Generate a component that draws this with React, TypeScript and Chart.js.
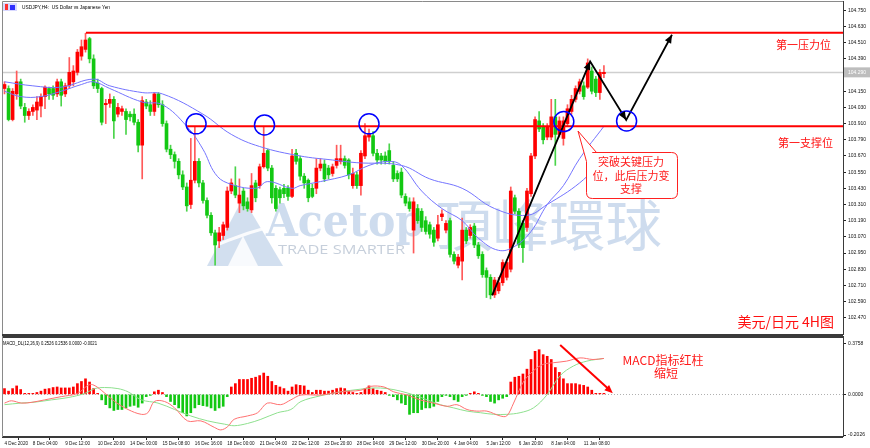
import React, { useEffect, useRef } from 'react';
import { Chart, registerables } from 'chart.js';

Chart.register(...registerables);

// ---------------- DATA ----------------
const opens = [
  104.17, 104.17, 103.94, 104.13, 104.22, 104.03, 103.97, 104.00, 104.01, 104.04,
  104.11, 104.17, 104.17, 104.13, 104.22, 104.13, 104.19, 104.22, 104.29, 104.41,
  104.46, 104.54, 104.39, 104.21, 104.17, 104.05, 104.06, 104.09, 103.98, 104.00,
  104.00, 103.98, 103.98, 103.92, 103.75, 104.07, 104.05, 104.00, 104.13, 104.05,
  103.91, 103.72, 103.68, 103.63, 103.53, 103.44, 103.31, 103.49, 103.63, 103.47,
  103.34, 103.23, 103.10, 103.04, 103.08, 103.14, 103.41, 103.45, 103.32, 103.41,
  103.33, 103.27, 103.47, 103.45, 103.59, 103.71, 103.58, 103.43, 103.42, 103.43,
  103.43, 103.37, 103.69, 103.65, 103.52, 103.49, 103.43, 103.43, 103.58, 103.61,
  103.58, 103.54, 103.60, 103.63, 103.65, 103.64, 103.45, 103.53, 103.45, 103.67,
  103.81, 103.82, 103.69, 103.67, 103.67, 103.71, 103.60, 103.54, 103.55, 103.37,
  103.33, 103.12, 103.28, 103.26, 103.19, 103.16, 103.12, 103.06, 103.22, 103.12,
  103.19, 102.94, 102.86, 102.89, 103.12, 103.08, 103.15, 103.01, 102.94, 102.82,
  102.77, 102.64, 102.67, 102.73, 102.77, 102.83, 103.36, 103.26, 103.17, 103.14,
  103.39, 103.67, 103.93, 103.89, 103.81, 103.81, 103.96, 103.83, 103.80, 103.91,
  104.00, 104.09, 104.15, 104.19, 104.18, 104.30, 104.24, 104.14, 104.28,
];
const highs = [
  104.22, 104.19, 104.17, 104.30, 104.24, 104.06, 104.02, 104.05, 104.11, 104.13,
  104.19, 104.18, 104.19, 104.24, 104.24, 104.21, 104.40, 104.34, 104.46, 104.53,
  104.58, 104.55, 104.42, 104.24, 104.18, 104.09, 104.13, 104.11, 104.06, 104.04,
  104.02, 104.00, 104.02, 103.94, 104.11, 104.09, 104.08, 104.14, 104.14, 104.08,
  103.93, 103.75, 103.70, 103.65, 103.56, 103.47, 103.80, 103.89, 103.65, 103.49,
  103.36, 103.25, 103.12, 103.14, 103.18, 103.44, 103.50, 103.59, 103.50, 103.43,
  103.36, 103.54, 103.49, 103.61, 103.89, 103.72, 103.60, 103.45, 103.44, 103.46,
  103.45, 103.72, 103.72, 103.67, 103.54, 103.50, 103.46, 103.65, 103.65, 103.64,
  103.60, 103.61, 103.75, 103.75, 103.67, 103.65, 103.58, 103.55, 103.71, 103.91,
  103.87, 103.85, 103.72, 103.69, 103.70, 103.76, 103.63, 103.56, 103.58, 103.39,
  103.36, 103.36, 103.31, 103.28, 103.22, 103.18, 103.14, 103.23, 103.27, 103.19,
  103.21, 102.96, 102.94, 103.21, 103.14, 103.16, 103.17, 103.03, 102.96, 102.84,
  102.79, 102.77, 102.77, 102.90, 102.90, 103.44, 103.38, 103.28, 103.19, 103.43,
  103.69, 103.96, 104.00, 103.91, 103.91, 104.09, 104.09, 103.96, 103.96, 104.05,
  104.12, 104.19, 104.24, 104.22, 104.39, 104.33, 104.26, 104.31, 104.34,
];
const lows = [
  104.13, 103.93, 103.93, 104.09, 104.02, 103.92, 103.94, 103.97, 103.94, 103.96,
  104.02, 104.09, 104.09, 104.11, 104.04, 104.11, 104.17, 104.19, 104.27, 104.38,
  104.44, 104.36, 104.17, 104.14, 103.90, 103.91, 104.03, 103.80, 103.96, 103.97,
  103.83, 103.93, 103.90, 103.70, 103.50, 104.02, 103.97, 103.97, 104.03, 103.89,
  103.70, 103.65, 103.58, 103.50, 103.42, 103.26, 103.28, 103.47, 103.44, 103.32,
  103.21, 103.08, 102.86, 102.99, 103.05, 103.12, 103.39, 103.36, 103.25, 103.27,
  103.26, 103.25, 103.33, 103.43, 103.58, 103.56, 103.32, 103.26, 103.32, 103.36,
  103.34, 103.36, 103.61, 103.49, 103.43, 103.33, 103.36, 103.39, 103.56, 103.48,
  103.50, 103.52, 103.58, 103.61, 103.58, 103.50, 103.43, 103.43, 103.38, 103.65,
  103.78, 103.67, 103.61, 103.61, 103.61, 103.61, 103.48, 103.48, 103.36, 103.30,
  103.26, 102.95, 103.17, 103.11, 103.09, 103.06, 103.00, 103.04, 103.19, 103.10,
  102.92, 102.87, 102.84, 102.75, 103.02, 103.06, 102.99, 102.91, 102.77, 102.62,
  102.61, 102.62, 102.65, 102.71, 102.75, 102.81, 103.24, 102.99, 102.88, 103.11,
  103.37, 103.65, 103.85, 103.76, 103.79, 103.79, 103.60, 103.81, 103.75, 103.89,
  103.98, 104.07, 104.13, 104.09, 104.17, 104.13, 104.11, 104.09, 104.25,
];
const closes = [
  104.20, 103.94, 104.15, 104.22, 104.04, 103.97, 104.00, 104.03, 104.07, 104.11,
  104.18, 104.13, 104.12, 104.22, 104.12, 104.19, 104.29, 104.30, 104.44, 104.48,
  104.53, 104.39, 104.19, 104.17, 103.92, 104.06, 104.09, 103.93, 104.03, 104.02,
  103.94, 103.96, 103.92, 103.75, 104.08, 104.04, 104.00, 104.13, 104.05, 103.91,
  103.72, 103.68, 103.63, 103.53, 103.44, 103.30, 103.49, 103.63, 103.47, 103.34,
  103.23, 103.10, 103.01, 103.10, 103.16, 103.41, 103.47, 103.38, 103.38, 103.30,
  103.28, 103.45, 103.36, 103.59, 103.69, 103.58, 103.36, 103.28, 103.36, 103.39,
  103.37, 103.67, 103.63, 103.52, 103.47, 103.36, 103.37, 103.58, 103.61, 103.50,
  103.53, 103.59, 103.65, 103.65, 103.60, 103.53, 103.54, 103.45, 103.69, 103.82,
  103.83, 103.69, 103.64, 103.64, 103.63, 103.63, 103.50, 103.50, 103.38, 103.32,
  103.28, 103.33, 103.19, 103.14, 103.11, 103.09, 103.03, 103.16, 103.24, 103.17,
  102.94, 102.89, 102.92, 103.12, 103.04, 103.14, 103.01, 102.93, 102.79, 102.77,
  102.64, 102.75, 102.73, 102.88, 102.88, 103.41, 103.26, 103.01, 102.99, 103.41,
  103.67, 103.94, 103.87, 103.79, 103.89, 103.96, 103.83, 103.93, 103.93, 104.02,
  104.09, 104.17, 104.22, 104.11, 104.36, 104.15, 104.14, 104.29, 104.29,
];

// moving averages (bar index, value)
const maFastIdx = [0, 4, 9, 14, 19, 22, 26, 34, 39, 45, 49, 52, 55, 62, 65, 71, 73, 78, 85, 90, 95, 98, 103, 108, 113, 117, 122, 126, 130, 134, 138, 142, 148];
const maFastVal = [104.15, 104.11, 104.11, 104.15, 104.20, 104.22, 104.17, 104.07, 104.05, 103.89, 103.72, 103.54, 103.47, 103.43, 103.48, 103.43, 103.45, 103.48, 103.53, 103.60, 103.63, 103.60, 103.41, 103.28, 103.19, 103.06, 102.97, 103.00, 103.11, 103.31, 103.45, 103.65, 103.89];
const maSlowIdx = [0, 7, 14, 22, 26, 34, 39, 49, 56, 63, 73, 81, 87, 98, 105, 113, 121, 129, 134, 142, 148];
const maSlowVal = [104.22, 104.19, 104.18, 104.24, 104.19, 104.14, 104.13, 103.98, 103.83, 103.74, 103.67, 103.64, 103.62, 103.60, 103.50, 103.43, 103.28, 103.23, 103.31, 103.47, 103.65];

// MACD histogram per bar
const macdHist = [
  0.043, 0.024, 0.043, 0.063, 0.036, 0.007, 0.002, 0.002, 0.014, 0.024,
  0.039, 0.043, 0.051, 0.055, 0.048, 0.048, 0.048, 0.055, 0.080, 0.096,
  0.116, 0.092, 0.043, 0.007, -0.041, -0.077, -0.101, -0.120, -0.113, -0.113,
  -0.101, -0.089, -0.082, -0.096, -0.065, -0.017, -0.005, 0.019, 0.031, 0.014,
  -0.017, -0.053, -0.077, -0.101, -0.137, -0.161, -0.137, -0.101, -0.077, -0.084,
  -0.089, -0.101, -0.120, -0.101, -0.089, -0.017, 0.055, 0.080, 0.111, 0.111,
  0.111, 0.120, 0.128, 0.140, 0.159, 0.135, 0.096, 0.067, 0.055, 0.043,
  0.024, 0.055, 0.072, 0.067, 0.063, 0.031, 0.014, 0.031, 0.031, 0.024,
  0.024, 0.031, 0.043, 0.048, 0.043, 0.024, 0.014, 0.001, 0.014, 0.043,
  0.063, 0.043, 0.031, 0.024, 0.014, -0.005, -0.017, -0.041, -0.065, -0.077,
  -0.149, -0.137, -0.137, -0.113, -0.101, -0.101, -0.089, -0.053, -0.017, -0.005,
  -0.017, -0.041, -0.053, -0.017, -0.005, 0.007, 0.019, 0.007, -0.005, -0.017,
  -0.053, -0.065, -0.041, -0.029, -0.017, 0.092, 0.128, 0.135, 0.152, 0.188,
  0.260, 0.321, 0.333, 0.296, 0.284, 0.260, 0.200, 0.164, 0.116, 0.080,
  0.080, 0.080, 0.072, 0.067, 0.055, 0.031, 0.007, 0.002, 0.002,
];
const macdRedIdx = [0, 1.7, 4.2, 6.6, 9.9, 14, 18, 20.6, 21.8, 23.9, 27.2, 30.5, 33.8, 35.4, 37, 39.5, 42, 45.2, 48.5, 51.8, 53.4, 55.1, 56.7, 60, 62.5, 64.9, 68.2, 70.7, 73.2, 78.1, 83, 88, 90.4, 93.7, 96.1, 99.4, 102.6, 105.9, 109.3, 111.7, 114.2, 116.6, 119.1, 122.4, 124, 125.7, 128.1, 130.6, 133, 135.5, 138.8, 142.1, 145.3, 148];
const macdRedVal = [-0.065, -0.048, -0.065, -0.060, -0.041, -0.017, 0.007, 0.067, 0.072, 0.031, -0.053, -0.113, -0.149, -0.137, -0.053, -0.053, -0.101, -0.198, -0.198, -0.246, -0.265, -0.241, -0.186, -0.161, -0.137, -0.065, -0.077, -0.041, -0.005, -0.005, 0.019, 0.031, 0.060, 0.055, 0.019, -0.005, -0.041, -0.065, -0.089, -0.077, -0.113, -0.125, -0.125, -0.161, -0.161, -0.065, 0.092, 0.176, 0.224, 0.236, 0.248, 0.272, 0.260, 0.268];
const macdGreenIdx = [0, 4, 7.5, 11.6, 15.7, 19.8, 22.3, 24.7, 28, 30.5, 33.8, 37.9, 42, 46, 50.2, 54.3, 56.7, 60, 63.3, 67.4, 70.7, 73.2, 78.1, 83, 88, 91.2, 94.5, 97.8, 101.1, 104.4, 107.6, 110.9, 114.2, 117.5, 120.8, 124, 127.3, 130.6, 133.9, 137.2, 140.5, 143.8, 148];
const macdGreenVal = [-0.077, -0.065, -0.058, -0.041, -0.024, 0.007, 0.043, 0.051, 0.043, 0.019, -0.041, -0.065, -0.113, -0.161, -0.198, -0.222, -0.234, -0.217, -0.186, -0.137, -0.113, -0.053, -0.010, 0.019, 0.039, 0.048, 0.043, 0.024, -0.005, -0.041, -0.077, -0.101, -0.125, -0.137, -0.149, -0.149, -0.137, -0.101, -0.005, 0.140, 0.212, 0.248, 0.268];

// time axis labels (bar index -> text)
const timeLabelIdx = [0, 7, 15, 23, 31, 39, 47, 55, 63, 71, 79, 87, 95, 103, 111, 119, 127, 135, 143];
const timeLabels = ['4 Dec 2020', '8 Dec 04:00', '9 Dec 12:00', '10 Dec 20:00', '14 Dec 00:00', '15 Dec 08:00', '16 Dec 16:00', '18 Dec 00:00', '21 Dec 04:00', '22 Dec 12:00', '23 Dec 20:00', '28 Dec 04:00', '29 Dec 12:00', '30 Dec 20:00', '4 Jan 04:00', '5 Jan 12:00', '6 Jan 20:00', '8 Jan 04:00', '11 Jan 08:00'];

const priceTicks = [104.75, 104.63, 104.51, 104.39, 104.27, 104.15, 104.03, 103.91, 103.79, 103.67, 103.55, 103.43, 103.31, 103.19, 103.07, 102.95, 102.83, 102.71, 102.59, 102.47];
const macdTickVals = [0.3758, 0, -0.3036];
const macdTickText = ['0.3758', '0.0000', '-0.2026'];

// annotations
const resistanceLevel = 104.584;
const resistanceFrom = 20.1;
const supportLevel = 103.891;
const supportFrom = 45.1;
const circleIdx = [47.3, 64.2, 90.0, 138.1, 153.6];
const circlePrice = [103.908, 103.9, 103.908, 103.925, 103.93];
const arrowIdx = [120.4, 144.6, 153.5, 164.8];
const arrowPrice = [102.636, 104.37, 103.937, 104.569];
const macdArrowIdx = [137.2, 150.2];
const macdArrowVal = [0.369, 0.009];

const X_MIN = -0.617;
const X_MAX = 207.03;
const UP = '#ff0000';
const DOWN = '#12c812';
const UP_WICK = '#ff5a5a';
const DOWN_WICK = '#4ad44a';

function fitText(ctx: CanvasRenderingContext2D, text: string, x: number, y: number, w: number, font: string) {
  ctx.font = font;
  const m = ctx.measureText(text).width;
  ctx.save();
  ctx.translate(x, y);
  ctx.scale(w / m, 1);
  ctx.textAlign = 'left';
  ctx.fillText(text, 0, 0);
  ctx.restore();
}

function arrowHead(ctx: CanvasRenderingContext2D, x1: number, y1: number, x2: number, y2: number, size: number, color: string) {
  const a = Math.atan2(y2 - y1, x2 - x1);
  ctx.save();
  ctx.fillStyle = color;
  ctx.beginPath();
  ctx.moveTo(x2, y2);
  ctx.lineTo(x2 - size * Math.cos(a - 0.4), y2 - size * Math.sin(a - 0.4));
  ctx.lineTo(x2 - size * Math.cos(a + 0.4), y2 - size * Math.sin(a + 0.4));
  ctx.closePath();
  ctx.fill();
  ctx.restore();
}

const Y_FONT = { family: 'Liberation Sans', size: 5 };
const X_FONT = { family: 'Liberation Sans', size: 4.6 };

export default function App() {
  const mainRef = useRef<HTMLCanvasElement>(null);
  const macdRef = useRef<HTMLCanvasElement>(null);

  useEffect(() => {
    const idx = opens.map((_, i) => i);
    const isUp = (i: number) => closes[i] >= opens[i];

    const mainPlugin = {
      id: 'mainDeco',
      beforeDatasetsDraw(chart: any) {
        const { ctx, chartArea: ca, scales } = chart;
        const ys = scales.y;
        ctx.save();
        // watermark
        ctx.fillStyle = 'rgba(165,192,224,0.5)';
        ctx.beginPath();
        ctx.moveTo(207, 266);
        ctx.lineTo(243, 198);
        ctx.lineTo(283, 266);
        ctx.closePath();
        ctx.fill();
        ctx.fillStyle = 'rgba(255,255,255,0.85)';
        ctx.beginPath();
        ctx.moveTo(228, 266);
        ctx.lineTo(243, 236);
        ctx.lineTo(258, 266);
        ctx.closePath();
        ctx.fill();
        ctx.strokeStyle = 'rgba(255,255,255,0.9)';
        ctx.lineWidth = 3;
        ctx.beginPath();
        ctx.moveTo(205, 250);
        ctx.quadraticCurveTo(250, 230, 290, 222);
        ctx.stroke();
        ctx.fillStyle = 'rgba(165,192,224,0.55)';
        ctx.textBaseline = 'alphabetic';
        fitText(ctx, 'Acetop', 266, 236, 158, 'bold 44px "DejaVu Serif"');
        fitText(ctx, '頂峰環球', 436, 246, 226, '56px "Noto Sans CJK TC"');
        ctx.fillStyle = 'rgba(160,175,195,0.6)';
        fitText(ctx, 'TRADE SMARTER', 278, 254, 127, '12px "Open Sans"');
        // current price line
        const last = closes[closes.length - 1];
        const py = Math.round(ys.getPixelForValue(last)) + 0.5;
        ctx.strokeStyle = '#cfcfcf';
        ctx.lineWidth = 1.5;
        ctx.beginPath();
        ctx.moveTo(ca.left, py);
        ctx.lineTo(ca.right, py);
        ctx.stroke();
        ctx.restore();
      },
      afterDatasetsDraw(chart: any) {
        const { ctx, scales } = chart;
        const xs = scales.x, ys = scales.y;
        const pts = arrowIdx.map((v, k) => [xs.getPixelForValue(v), ys.getPixelForValue(arrowPrice[k])]);
        for (let k = 1; k < pts.length; k++) {
          arrowHead(ctx, pts[k - 1][0], pts[k - 1][1], pts[k][0], pts[k][1], 9, '#000');
        }
      },
      afterDraw(chart: any) {
        const { ctx, chartArea: ca, scales } = chart;
        const ys = scales.y;
        ctx.save();
        // frame
        ctx.strokeStyle = '#8a8a8a';
        ctx.lineWidth = 1;
        ctx.beginPath();
        ctx.moveTo(2.5, 335);
        ctx.lineTo(2.5, 1.5);
        ctx.lineTo(ca.right, 1.5);
        ctx.stroke();
        ctx.strokeStyle = '#3a3a3a';
        ctx.lineWidth = 2;
        ctx.beginPath();
        ctx.moveTo(2, 335);
        ctx.lineTo(ca.right, 335);
        ctx.stroke();
        ctx.lineWidth = 1;
        ctx.beginPath();
        ctx.moveTo(ca.right + 0.5, 1);
        ctx.lineTo(ca.right + 0.5, 335);
        ctx.stroke();
        // current price label
        const last = closes[closes.length - 1];
        const py = ys.getPixelForValue(last);
        ctx.fillStyle = '#bdbdbd';
        ctx.fillRect(ca.right + 1, py - 5, 26, 10);
        ctx.fillStyle = '#ffffff';
        ctx.font = '5px "Liberation Sans"';
        ctx.textBaseline = 'middle';
        ctx.textAlign = 'left';
        ctx.fillText(last.toFixed(3), ca.right + 5, py);
        // title
        ctx.fillStyle = '#d8d8ff';
        ctx.fillRect(3, 3, 14, 8);
        ctx.fillStyle = '#ff3030';
        ctx.fillRect(5, 4, 3, 6);
        ctx.fillStyle = '#3030ff';
        ctx.fillRect(10, 5, 5, 5);
        ctx.fillStyle = '#000';
        fitText(ctx, 'USDJPY,H4:  US Dollar vs Japanese Yen', 22, 7, 88, '5.5px "Liberation Sans"');
        // right texts
        ctx.fillStyle = '#ff1010';
        ctx.font = '11px "Noto Sans CJK SC"';
        ctx.textAlign = 'left';
        ctx.fillText('第一压力位', 776, 45);
        ctx.fillText('第一支撑位', 778, 143);
        ctx.font = '14px "Noto Sans CJK SC"';
        ctx.textAlign = 'right';
        ctx.fillText('美元/日元 4H图', 834, 322);
        // callout
        ctx.fillStyle = '#ffffff';
        ctx.strokeStyle = '#ff2020';
        ctx.lineWidth = 1;
        const bx = 586.5, by = 152.5, bw = 91, bh = 46, r = 6;
        ctx.beginPath();
        ctx.moveTo(bx + r, by);
        ctx.lineTo(bx + bw - r, by);
        ctx.quadraticCurveTo(bx + bw, by, bx + bw, by + r);
        ctx.lineTo(bx + bw, by + bh - r);
        ctx.quadraticCurveTo(bx + bw, by + bh, bx + bw - r, by + bh);
        ctx.lineTo(bx + r, by + bh);
        ctx.quadraticCurveTo(bx, by + bh, bx, by + bh - r);
        ctx.lineTo(bx, by + 9);
        ctx.lineTo(578, 131);
        ctx.lineTo(bx + 10, by);
        ctx.closePath();
        ctx.fill();
        ctx.stroke();
        ctx.fillStyle = '#ff1a1a';
        ctx.font = '11px "Noto Sans CJK SC"';
        ctx.textAlign = 'center';
        ctx.textBaseline = 'middle';
        ctx.fillText('突破关键压力', 631, 162);
        ctx.fillText('位，此后压力变', 631, 176);
        ctx.fillText('支撑', 631, 189);
        ctx.restore();
      },
    };

    const main = new Chart(mainRef.current!, {
      type: 'bar',
      data: {
        datasets: [
          {
            type: 'line',
            data: circleIdx.map((x, k) => ({ x, y: circlePrice[k] })),
            showLine: false,
            pointRadius: 10,
            pointBorderColor: '#0000ff',
            pointBorderWidth: 1.5,
            pointBackgroundColor: 'rgba(0,0,0,0)',
            order: 1,
          } as any,
          {
            type: 'line',
            data: arrowIdx.map((x, k) => ({ x, y: arrowPrice[k] })),
            borderColor: '#000',
            borderWidth: 1.8,
            pointRadius: 0,
            tension: 0,
            order: 2,
          },
          {
            type: 'line',
            data: [{ x: resistanceFrom, y: resistanceLevel }, { x: X_MAX, y: resistanceLevel }],
            borderColor: '#ff0000',
            borderWidth: 2,
            pointRadius: 0,
            order: 3,
          },
          {
            type: 'line',
            data: [{ x: supportFrom, y: supportLevel }, { x: X_MAX, y: supportLevel }],
            borderColor: '#ff0000',
            borderWidth: 2,
            pointRadius: 0,
            order: 3,
          },
          {
            type: 'line',
            data: maFastIdx.map((x, k) => ({ x, y: maFastVal[k] })),
            borderColor: '#7474ff',
            borderWidth: 1,
            pointRadius: 0,
            tension: 0.4,
            order: 4,
          },
          {
            type: 'line',
            data: maSlowIdx.map((x, k) => ({ x, y: maSlowVal[k] })),
            borderColor: '#7474ff',
            borderWidth: 1,
            pointRadius: 0,
            tension: 0.4,
            order: 4,
          },
          {
            type: 'bar',
            data: idx.map((i) => ({ x: i, y: [opens[i], closes[i]] })),
            backgroundColor: idx.map((i) => (isUp(i) ? UP : DOWN)),
            barThickness: 3,
            minBarLength: 1,
            grouped: false,
            order: 5,
          } as any,
          {
            type: 'bar',
            data: idx.map((i) => ({ x: i, y: [lows[i], highs[i]] })),
            backgroundColor: idx.map((i) => (isUp(i) ? UP_WICK : DOWN_WICK)),
            barThickness: 1,
            grouped: false,
            order: 6,
          } as any,
        ],
      },
      options: {
        animation: false,
        responsive: false,
        devicePixelRatio: 1,
        events: [],
        layout: { autoPadding: false, padding: { left: 2, top: 6, bottom: 2, right: 0 } },
        plugins: { legend: { display: false }, tooltip: { enabled: false } },
        scales: {
          x: { type: 'linear', min: X_MIN, max: X_MAX, offset: false, display: false },
          y: {
            type: 'linear',
            position: 'right',
            min: 102.372,
            max: 104.782,
            afterBuildTicks: (s: any) => { s.ticks = priceTicks.map((v) => ({ value: v })); },
            afterFit: (s: any) => { s.width = 27; },
            ticks: { callback: (v: any) => Number(v).toFixed(3), font: Y_FONT, color: '#111', padding: 2 },
            grid: { drawOnChartArea: false, drawTicks: true, tickLength: 3, color: '#222' },
            border: { display: true, color: '#222' },
          },
        },
      } as any,
      plugins: [mainPlugin],
    });

    const macdPlugin = {
      id: 'macdDeco',
      beforeDatasetsDraw(chart: any) {
        const { ctx, chartArea: ca, scales } = chart;
        const y0 = Math.round(scales.y.getPixelForValue(0)) + 0.5;
        ctx.save();
        ctx.strokeStyle = '#b0b0b0';
        ctx.setLineDash([1, 2]);
        ctx.lineWidth = 1;
        ctx.beginPath();
        ctx.moveTo(ca.left, y0);
        ctx.lineTo(ca.right, y0);
        ctx.stroke();
        ctx.restore();
      },
      afterDraw(chart: any) {
        const { ctx, chartArea: ca, scales } = chart;
        const xs = scales.x, ys = scales.y;
        ctx.save();
        ctx.strokeStyle = '#3a3a3a';
        ctx.lineWidth = 2;
        ctx.beginPath();
        ctx.moveTo(2, 1);
        ctx.lineTo(ca.right, 1);
        ctx.moveTo(2, ca.bottom);
        ctx.lineTo(ca.right, ca.bottom);
        ctx.stroke();
        ctx.strokeStyle = '#8a8a8a';
        ctx.lineWidth = 1;
        ctx.beginPath();
        ctx.moveTo(2.5, 0);
        ctx.lineTo(2.5, ca.bottom);
        ctx.stroke();
        ctx.strokeStyle = '#3a3a3a';
        ctx.beginPath();
        ctx.moveTo(ca.right + 0.5, 0);
        ctx.lineTo(ca.right + 0.5, ca.bottom);
        ctx.stroke();
        // label
        ctx.fillStyle = '#000';
        ctx.textBaseline = 'middle';
        fitText(ctx, 'MACD_DL(12,26,9) 0.2526 0.2536 0.0000 -0.0021', 3, 7, 94, '5.5px "Liberation Sans"');
        // red arrow
        const x1 = xs.getPixelForValue(macdArrowIdx[0]);
        const y1 = ys.getPixelForValue(macdArrowVal[0]);
        const x2 = xs.getPixelForValue(macdArrowIdx[1]);
        const y2 = ys.getPixelForValue(macdArrowVal[1]);
        ctx.strokeStyle = '#ff0000';
        ctx.lineWidth = 2;
        ctx.beginPath();
        ctx.moveTo(x1, y1);
        ctx.lineTo(x2 - 4, y2 - 4);
        ctx.stroke();
        arrowHead(ctx, x1, y1, x2, y2, 9, '#ff0000');
        // texts
        ctx.fillStyle = '#ff1a1a';
        ctx.font = '12px "Noto Sans CJK SC"';
        ctx.textAlign = 'center';
        ctx.fillText('MACD指标红柱', 663, 24);
        ctx.fillText('缩短', 666, 37);
        ctx.restore();
      },
    };

    const macd = new Chart(macdRef.current!, {
      type: 'bar',
      data: {
        datasets: [
          {
            type: 'line',
            data: macdRedIdx.map((x, k) => ({ x, y: macdRedVal[k] })),
            borderColor: '#ff7070',
            borderWidth: 1,
            pointRadius: 0,
            tension: 0.35,
            order: 1,
          },
          {
            type: 'line',
            data: macdGreenIdx.map((x, k) => ({ x, y: macdGreenVal[k] })),
            borderColor: '#8ee08e',
            borderWidth: 1,
            pointRadius: 0,
            tension: 0.35,
            order: 2,
          },
          {
            type: 'bar',
            data: idx.map((i) => ({ x: i, y: macdHist[i] })),
            backgroundColor: idx.map((i) => (macdHist[i] >= 0 ? UP : DOWN)),
            barThickness: 2,
            minBarLength: 1,
            grouped: false,
            order: 3,
          } as any,
        ],
      },
      options: {
        animation: false,
        responsive: false,
        devicePixelRatio: 1,
        events: [],
        layout: { autoPadding: false, padding: { left: 2, top: 2, bottom: 0, right: 0 } },
        plugins: { legend: { display: false }, tooltip: { enabled: false } },
        scales: {
          x: {
            type: 'linear',
            min: X_MIN,
            max: X_MAX,
            offset: false,
            position: 'bottom',
            afterBuildTicks: (s: any) => { s.ticks = timeLabelIdx.map((v) => ({ value: v })); },
            afterFit: (s: any) => { s.height = 11; },
            ticks: {
              autoSkip: false,
              maxRotation: 0,
              minRotation: 0,
              align: 'start',
              padding: 1,
              font: X_FONT,
              color: '#111',
              callback: (v: any) => {
                const k = timeLabelIdx.indexOf(Number(v));
                return k >= 0 ? timeLabels[k] : '';
              },
            },
            grid: { drawOnChartArea: false, drawTicks: true, tickLength: 3, color: '#222' },
            border: { display: false },
          },
          y: {
            type: 'linear',
            position: 'right',
            min: -0.318,
            max: 0.398,
            afterBuildTicks: (s: any) => { s.ticks = macdTickVals.map((v) => ({ value: v })); },
            afterFit: (s: any) => { s.width = 27; },
            ticks: {
              font: Y_FONT,
              color: '#111',
              padding: 2,
              callback: (v: any) => {
                const k = macdTickVals.indexOf(Number(v));
                return k >= 0 ? macdTickText[k] : '';
              },
            },
            grid: { drawOnChartArea: false, drawTicks: true, tickLength: 3, color: '#222' },
            border: { display: false },
          },
        },
      } as any,
      plugins: [macdPlugin],
    });

    return () => {
      main.destroy();
      macd.destroy();
    };
  }, []);

  return (
    <div style={{ position: 'fixed', left: 0, top: 0, width: 870, height: 448, background: '#fff' }}>
      <canvas ref={mainRef} width={870} height={336} style={{ position: 'absolute', left: 0, top: 0, width: 870, height: 336 }} />
      <canvas ref={macdRef} width={870} height={112} style={{ position: 'absolute', left: 0, top: 336, width: 870, height: 112 }} />
    </div>
  );
}
